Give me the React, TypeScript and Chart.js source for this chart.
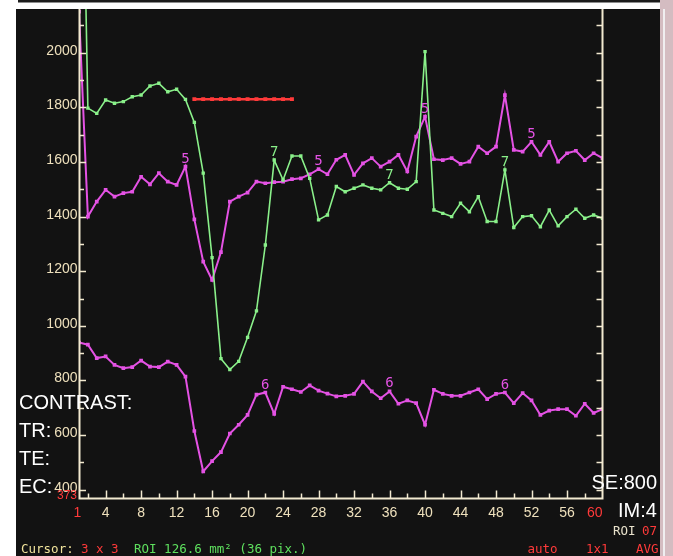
import React, { useEffect, useRef } from "react";
import { Chart, registerables } from "chart.js";

Chart.register(...registerables);

// ---------- data ----------
const frames = [
  1, 2, 3, 4, 5, 6, 7, 8, 9, 10, 11, 12, 13, 14, 15, 16, 17, 18, 19, 20,
  21, 22, 23, 24, 25, 26, 27, 28, 29, 30, 31, 32, 33, 34, 35, 36, 37, 38, 39, 40,
  41, 42, 43, 44, 45, 46, 47, 48, 49, 50, 51, 52, 53, 54, 55, 56, 57, 58, 59, 60,
];

// curve "7" (green)
const greenValues = [
  3500, 1797, 1778, 1827, 1815, 1821, 1839, 1845, 1878, 1888,
  1857, 1866, 1829, 1745, 1559, 1250, 880, 840, 870, 958,
  1055, 1296, 1607, 1534, 1622, 1622, 1540, 1388, 1406, 1510,
  1491, 1504, 1516, 1504, 1498, 1524, 1504, 1500, 1528, 2004,
  1424, 1412, 1400, 1449, 1418, 1473, 1382, 1382, 1571, 1360,
  1400, 1403, 1363, 1424, 1366, 1400, 1427, 1394, 1406, 1394,
];

// curve "5" (upper magenta)
const upperValues = [
  2150, 1400, 1455, 1498, 1473, 1486, 1491, 1546, 1518, 1559,
  1528, 1516, 1583, 1390, 1235, 1168, 1270, 1455, 1473, 1488,
  1528, 1522, 1526, 1528, 1537, 1540, 1555, 1574, 1555, 1608,
  1626, 1553, 1595, 1614, 1583, 1601, 1626, 1565, 1693, 1766,
  1610, 1607, 1614, 1593, 1601, 1656, 1632, 1656, 1845, 1644,
  1638, 1674, 1626, 1674, 1601, 1632, 1641, 1607, 1632, 1614,
];

// curve "6" (lower magenta)
const lowerValues = [
  939, 931, 882, 888, 857, 845, 849, 873, 851, 849,
  869, 857, 814, 615, 467, 505, 538, 606, 638, 674,
  748, 756, 678, 777, 768, 758, 782, 763, 752, 742,
  744, 751, 796, 760, 735, 760, 715, 727, 717, 638,
  766, 751, 744, 744, 756, 768, 732, 751, 756, 717,
  754, 727, 674, 690, 695, 695, 671, 715, 681, 695,
];

// red dotted marker line
const redFrames = [14, 15, 16, 17, 18, 19, 20, 21, 22, 23, 24, 25];
const redValues = [1830, 1830, 1830, 1830, 1830, 1830, 1830, 1830, 1830, 1830, 1830, 1830];

// curve number labels
const greenLabelFrames = [23, 36, 49];
const upperLabelFrames = [13, 28, 40, 52];
const lowerLabelFrames = [22, 36, 49];

// axes
const yLabelValues = [400, 600, 800, 1000, 1200, 1400, 1600, 1800, 2000];
const xLabelValues = [1, 4, 8, 12, 16, 20, 24, 28, 32, 36, 40, 44, 48, 52, 56, 60];
const yMin = 368;
const yMax = 2160;
const minLabel = "373";

// ---------- styles ----------
const W = 673;
const H = 556;
const PANEL = "#121212";
const AXIS = "#f2e9d0";
const TICKTXT = "#eee0bc";
const GREEN = "#8af08a";
const MAGENTA = "#e452e4";
const RED = "#ff3a3a";
const MONO = '"DejaVu Sans Mono", monospace';
const SANS = '"Liberation Sans", Arial, sans-serif';

const framePlugin = {
  id: "framePlugin",
  beforeDraw(chart: any) {
    const ctx = chart.ctx;
    ctx.save();
    ctx.fillStyle = "#ffffff";
    ctx.fillRect(0, 0, W, H);
    ctx.fillStyle = "#1c1c1c";
    ctx.fillRect(18, 0, 642, 2.5);
    ctx.fillStyle = PANEL;
    ctx.fillRect(16, 9, 647, H - 9);
    ctx.fillStyle = "#d4bcc1";
    ctx.fillRect(660, 0, 13, H);
    ctx.fillStyle = "#f0eef0";
    ctx.fillRect(663, 9, 2, H - 9);
    ctx.restore();
  },
  afterDatasetsDraw(chart: any) {
    const ctx = chart.ctx;
    const xs = chart.scales.x;
    const ys = chart.scales.y;
    const { left, right, top, bottom } = chart.chartArea;
    ctx.save();

    // axis lines
    ctx.strokeStyle = AXIS;
    ctx.lineWidth = 2;
    ctx.beginPath();
    ctx.moveTo(left + 0.5, top);
    ctx.lineTo(left + 0.5, bottom);
    ctx.lineTo(right, bottom);
    ctx.lineTo(right, top);
    ctx.stroke();

    // y ticks (inside)
    ctx.lineWidth = 1.5;
    for (let v = 400; v <= 2100; v += 100) {
      const py = Math.round(ys.getPixelForValue(v)) + 0.5;
      const len = v % 200 === 0 ? 7 : 5;
      ctx.beginPath();
      ctx.moveTo(left, py);
      ctx.lineTo(left + len, py);
      ctx.moveTo(right, py);
      ctx.lineTo(right - 6, py);
      ctx.stroke();
    }
    // x ticks (inside)
    for (let t = 2; t < 60; t += 2) {
      const px = Math.round(xs.getPixelForValue(t)) + 0.5;
      const len = t % 4 === 0 ? 8 : 5;
      ctx.beginPath();
      ctx.moveTo(px, bottom);
      ctx.lineTo(px, bottom - len);
      ctx.stroke();
    }

    // y labels
    ctx.font = `14px ${SANS}`;
    ctx.textAlign = "right";
    ctx.textBaseline = "alphabetic";
    ctx.fillStyle = TICKTXT;
    for (const v of yLabelValues) {
      ctx.fillText(String(v), left - 1.5, ys.getPixelForValue(v) + 2);
    }
    ctx.font = `12px ${SANS}`;
    ctx.fillStyle = RED;
    ctx.fillText(minLabel, left - 2, bottom);

    // x labels
    ctx.font = `14px ${SANS}`;
    xLabelValues.forEach((t, i) => {
      const px = xs.getPixelForValue(t);
      const last = i === xLabelValues.length - 1;
      const first = i === 0;
      ctx.fillStyle = first || last ? RED : TICKTXT;
      ctx.textAlign = last ? "right" : "center";
      ctx.fillText(String(t), last ? px : first ? px - 1.5 : px, bottom + 18.5);
    });

    // curve number labels
    ctx.font = `14px ${MONO}`;
    ctx.textAlign = "center";
    const lab = (fr: number[], vals: number[], txt: string, col: string) => {
      ctx.fillStyle = col;
      for (const f of fr) {
        const px = xs.getPixelForValue(f);
        const py = ys.getPixelForValue(vals[frames.indexOf(f)]);
        ctx.fillText(txt, px, py - 4);
      }
    };
    lab(upperLabelFrames, upperValues, "5", MAGENTA);
    lab(greenLabelFrames, greenValues, "7", GREEN);
    lab(lowerLabelFrames, lowerValues, "6", MAGENTA);

    // overlay info text
    ctx.textAlign = "left";
    ctx.font = `20px ${SANS}`;
    ctx.fillStyle = "#ffffff";
    ctx.fillText("CONTRAST:", 19, 409);
    ctx.fillText("TR:", 19, 437);
    ctx.fillText("TE:", 19, 465);
    ctx.fillText("EC:", 19, 493);
    ctx.fillText("SE:800", 591.5, 488.5);
    ctx.fillText("IM:4", 618, 517);

    ctx.font = `12.5px ${MONO}`;
    ctx.fillStyle = "#e9e2cc";
    ctx.fillText("ROI", 613, 535);
    ctx.fillStyle = RED;
    ctx.fillText("07", 642, 535);
    ctx.fillText("auto", 527.5, 553);
    ctx.fillText("1x1", 586, 553);
    ctx.fillText("AVG", 636, 553);

    ctx.fillStyle = "#efe29a";
    ctx.fillText("Cursor:", 21, 553);
    ctx.fillStyle = RED;
    ctx.fillText("3 x 3", 81, 553);
    ctx.fillStyle = "#5ee05e";
    ctx.fillText("ROI 126.6 mm\u00B2 (36 pix.)", 134, 553);

    ctx.restore();
  },
};

export default function App() {
  const ref = useRef<HTMLCanvasElement | null>(null);

  useEffect(() => {
    if (!ref.current) return;
    const series = (vals: number[]) => frames.map((f, i) => ({ x: f, y: vals[i] }));
    const chart = new Chart(ref.current, {
      type: "line",
      data: {
        datasets: [
          {
            data: series(greenValues),
            borderColor: GREEN,
            backgroundColor: GREEN,
            borderWidth: 1.6,
            pointStyle: "rect",
            pointRadius: 2.4,
            pointBorderWidth: 0,
            tension: 0,
            clip: 0,
            order: 0,
          },
          {
            data: series(upperValues),
            borderColor: MAGENTA,
            backgroundColor: MAGENTA,
            borderWidth: 2,
            pointStyle: "rect",
            pointRadius: 2.6,
            pointBorderWidth: 0,
            tension: 0,
            clip: 0,
            order: 1,
          },
          {
            data: series(lowerValues),
            borderColor: MAGENTA,
            backgroundColor: MAGENTA,
            borderWidth: 2,
            pointStyle: "rect",
            pointRadius: 2.6,
            pointBorderWidth: 0,
            tension: 0,
            clip: 0,
            order: 1,
          },
          {
            data: redFrames.map((f, i) => ({ x: f, y: redValues[i] })),
            borderColor: RED,
            backgroundColor: RED,
            borderWidth: 2.5,
            pointStyle: "rect",
            pointRadius: 2.8,
            pointBorderWidth: 0,
            tension: 0,
            clip: 0,
            order: 0,
          },
        ],
      },
      options: {
        animation: false,
        responsive: false,
        devicePixelRatio: 1,
        events: [],
        layout: { padding: { left: 79, top: 9, right: 70.5, bottom: 57.5 } },
        plugins: { legend: { display: false }, tooltip: { enabled: false } },
        scales: {
          x: { type: "linear", min: 1, max: 60, display: false },
          y: { type: "linear", min: yMin, max: yMax, display: false },
        },
      },
      plugins: [framePlugin],
    } as any);
    return () => chart.destroy();
  }, []);

  return (
    <div style={{ position: "fixed", left: 0, top: 0, width: W, height: H }}>
      <canvas ref={ref} width={W} height={H} style={{ display: "block", width: W, height: H }} />
    </div>
  );
}
